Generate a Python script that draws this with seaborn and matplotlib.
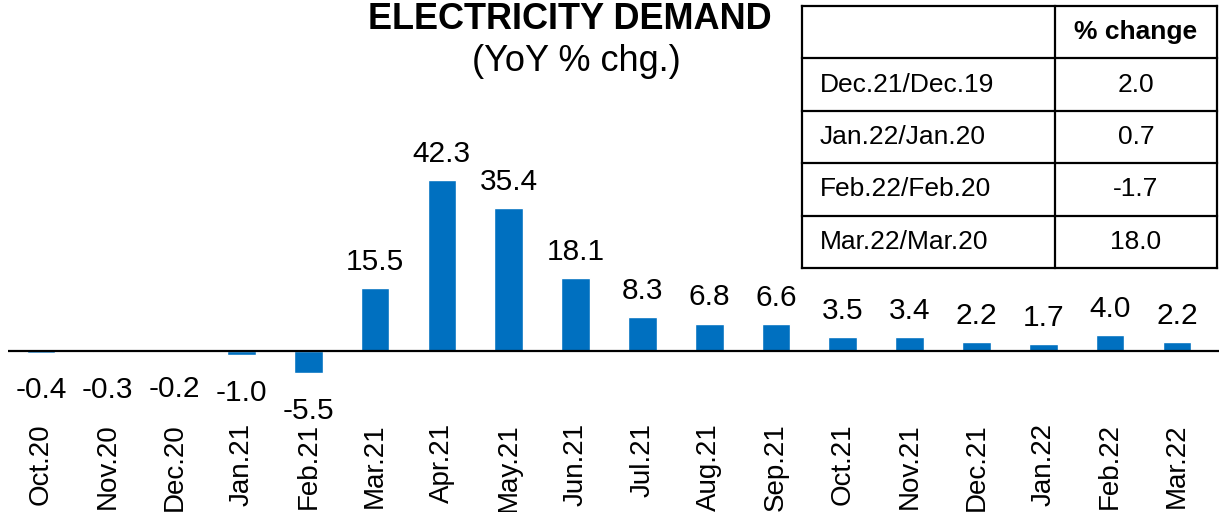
import matplotlib
matplotlib.use("Agg")
import matplotlib.pyplot as plt
import seaborn as sns
import pandas as pd

# Data
months = ["Oct.20", "Nov.20", "Dec.20", "Jan.21", "Feb.21", "Mar.21", "Apr.21",
          "May.21", "Jun.21", "Jul.21", "Aug.21", "Sep.21", "Oct.21", "Nov.21",
          "Dec.21", "Jan.22", "Feb.22", "Mar.22"]
yoy_change = [-0.4, -0.3, -0.2, -1.0, -5.5, 15.5, 42.3, 35.4, 18.1, 8.3, 6.8,
              6.6, 3.5, 3.4, 2.2, 1.7, 4.0, 2.2]

table_header = "% change"
table_periods = ["Dec.21/Dec.19", "Jan.22/Jan.20", "Feb.22/Feb.20", "Mar.22/Mar.20"]
table_values = [2.0, 0.7, -1.7, 18.0]

BAR_COLOR = "#0070C0"
W, H = 1219, 512

sns.set_theme(style="white")
plt.rcParams["font.family"] = ["Liberation Sans", "DejaVu Sans"]
plt.rcParams["text.color"] = "black"

fig = plt.figure(figsize=(W / 100, H / 100), dpi=100)

# main axes spans the full height; zero line sits at pixel row 351
zero_px, px_per_unit = 351, 4.04
ax = fig.add_axes([8 / W, 0, (W - 8) / W, 1])
df = pd.DataFrame({"month": months, "yoy": yoy_change})
sns.barplot(data=df, x="month", y="yoy", color=BAR_COLOR, saturation=1,
            width=0.43, ax=ax)
ax.set_ylim(-(H - zero_px) / px_per_unit, zero_px / px_per_unit)
ax.set_xlim(-0.494, 17.63)
ax.axhline(0, color="black", lw=1.6, zorder=3)
for s in ax.spines.values():
    s.set_visible(False)
ax.set_xticks([])
ax.set_yticks([])
ax.set_xlabel("")
ax.set_ylabel("")
ax.patch.set_alpha(0)

for i, (m, v) in enumerate(zip(months, yoy_change)):
    if v >= 0:
        ax.annotate(f"{v:.1f}", (i, v), xytext=(0, 13), textcoords="offset points",
                    ha="center", va="baseline", fontsize=21.5, color="black")
    else:
        ax.annotate(f"{v:.1f}", (i, v), xytext=(0, -17), textcoords="offset points",
                    ha="center", va="top", fontsize=21.5, color="black")
    # category labels, rotated
    ax.annotate(m, (i, 0), xytext=(0, -52), textcoords="offset points",
                ha="center", va="top", rotation=90, fontsize=20, color="black")

# title
fig.text(570 / W, 1 - 29 / H, "ELECTRICITY DEMAND", ha="center", va="baseline",
         fontsize=26, fontweight="bold", color="black")
fig.text(576 / W, 1 - 71 / H, "(YoY % chg.)", ha="center", va="baseline",
         fontsize=26, color="black")

# summary table in the top right
tx0, tx1, ty0, ty1 = 802, 1217, 6, 268
col_split = 1055
tax = fig.add_axes([tx0 / W, 1 - ty1 / H, (tx1 - tx0) / W, (ty1 - ty0) / H])
tax.set_xlim(tx0, tx1)
tax.set_ylim(ty1, ty0)
tax.axis("off")
n_rows = len(table_periods) + 1
row_h = (ty1 - ty0) / n_rows
lw = 1.6
for k in range(n_rows + 1):
    tax.plot([tx0, tx1], [ty0 + k * row_h] * 2, color="black", lw=lw,
             solid_capstyle="projecting", clip_on=False)
for x in (tx0, col_split, tx1):
    tax.plot([x, x], [ty0, ty1], color="black", lw=lw,
             solid_capstyle="projecting", clip_on=False)

col2_mid = (col_split + tx1) / 2
tax.text(col2_mid, ty0 + row_h / 2, table_header, ha="center", va="center",
         fontsize=19, fontweight="bold", color="black")
for r, (p, v) in enumerate(zip(table_periods, table_values), start=1):
    yc = ty0 + (r + 0.5) * row_h
    tax.text(820, yc, p, ha="left", va="center", fontsize=19, color="black")
    tax.text(col2_mid, yc, f"{v:.1f}", ha="center", va="center", fontsize=19,
             color="black")

fig.savefig("out.png", dpi=100)
